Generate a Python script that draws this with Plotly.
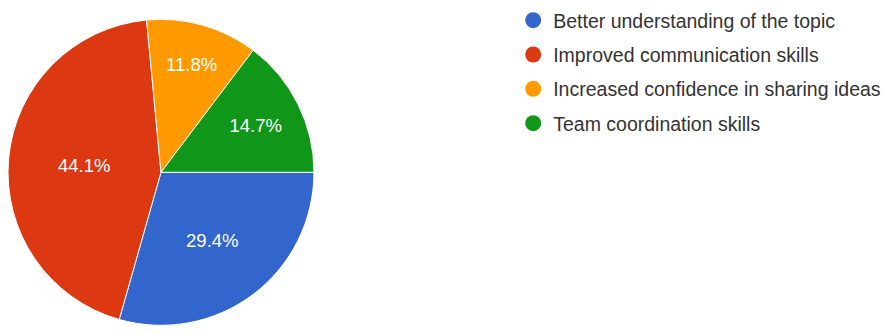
import plotly.graph_objects as go

# ------------------------------------------
# DATA
# ------------------------------------------
labels = [
    "Better understanding of the topic",
    "Improved communication skills",
    "Increased confidence in sharing ideas",
    "Team coordination skills",
]
values = [29.4, 44.1, 11.8, 14.7]
colors = ["#3366CC", "#DC3912", "#FF9900", "#109618"]

FONT = "Liberation Sans, Arial, sans-serif"

fig = go.Figure()

# Pie (legend is drawn with circle markers below)
fig.add_trace(go.Pie(
    labels=labels, values=values, sort=False, direction="clockwise",
    rotation=90,
    marker=dict(colors=colors, line=dict(color="white", width=1)),
    texttemplate="%{percent:.1%}", textposition="inside",
    insidetextorientation="horizontal",
    textfont=dict(color="white", size=18.5, family=FONT),
    showlegend=False,
    domain=dict(x=[0.0, 0.3434], y=[0.05, 0.966]),
))

# Circle legend entries
for lab, col in zip(labels, colors):
    fig.add_trace(go.Scatter(
        x=[None], y=[None], mode="markers", name=lab, legendgroup=lab,
        marker=dict(symbol="circle", size=16, color=col),
    ))

fig.update_layout(
    width=891, height=334,
    margin=dict(l=0, r=0, t=0, b=0, autoexpand=False),
    paper_bgcolor="white", plot_bgcolor="white",
    font=dict(family=FONT, size=19.5, color="#333333"),
    xaxis=dict(visible=False),
    yaxis=dict(visible=False),
    legend=dict(
        x=0.567, y=1.021, xanchor="left", yanchor="top",
        tracegroupgap=6, font=dict(size=19.5, color="#333333"),
        bgcolor="rgba(0,0,0,0)",
    ),
)

fig.write_html("out.html")
